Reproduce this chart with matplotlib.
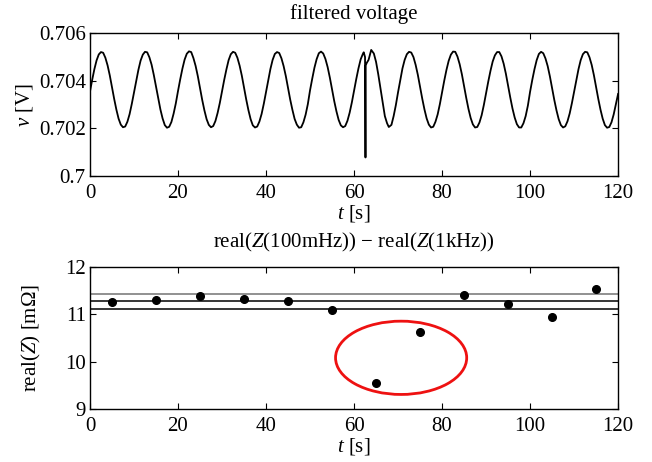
import numpy as np
import matplotlib.pyplot as plt
from matplotlib.patches import Ellipse

plt.rcParams['font.family'] = 'Liberation Serif'
plt.rcParams['mathtext.fontset'] = 'custom'
plt.rcParams['mathtext.rm'] = 'Liberation Serif'
plt.rcParams['mathtext.it'] = 'Liberation Serif:italic'
plt.rcParams['font.size'] = 15

# filtered cell voltage, sampled every 0.5 s (extra samples around the glitch near 62 s)
t_v = list(np.arange(0, 62.01, 0.5)) + [62.2, 62.5, 62.6, 62.65, 62.9, 63.3, 63.9,
                                         64.5, 65, 65.5, 66, 66.5, 67, 67.5, 67.9, 68.5,
                                         69, 69.5, 70, 70.5, 71, 71.5, 72, 72.5] \
    + list(np.arange(73, 120.01, 0.5))
v = [
    # 0 - 9.5
    0.70355, 0.70404, 0.70449, 0.70486, 0.70511, 0.70521, 0.70518, 0.70497, 0.70465, 0.70423,
    0.70374, 0.70324, 0.70279, 0.70241, 0.70216, 0.70205, 0.70208, 0.70228, 0.70260, 0.70303,
    # 10 - 19.5
    0.70351, 0.70400, 0.70446, 0.70485, 0.70510, 0.70522, 0.70520, 0.70499, 0.70468, 0.70425,
    0.70376, 0.70326, 0.70280, 0.70242, 0.70214, 0.70203, 0.70207, 0.70227, 0.70262, 0.70305,
    # 20 - 29.5
    0.70357, 0.70406, 0.70451, 0.70489, 0.70514, 0.70524, 0.70521, 0.70496, 0.70463, 0.70420,
    0.70370, 0.70320, 0.70276, 0.70239, 0.70215, 0.70205, 0.70210, 0.70231, 0.70265, 0.70307,
    # 30 - 39.5
    0.70355, 0.70404, 0.70448, 0.70487, 0.70512, 0.70522, 0.70518, 0.70497, 0.70464, 0.70422,
    0.70372, 0.70322, 0.70277, 0.70239, 0.70213, 0.70204, 0.70208, 0.70229, 0.70261, 0.70304,
    # 40 - 49.5
    0.70353, 0.70403, 0.70450, 0.70488, 0.70513, 0.70521, 0.70517, 0.70495, 0.70462, 0.70420,
    0.70371, 0.70321, 0.70278, 0.70240, 0.70216, 0.70203, 0.70205, 0.70226, 0.70258, 0.70302,
    # 50 - 59.5
    0.70360, 0.70409, 0.70455, 0.70491, 0.70516, 0.70523, 0.70515, 0.70492, 0.70458, 0.70414,
    0.70364, 0.70315, 0.70272, 0.70236, 0.70213, 0.70205, 0.70210, 0.70232, 0.70266, 0.70309,
    # 60 - 62
    0.70358, 0.70407, 0.70452, 0.70490, 0.70513,
    # glitch and recovery, 62.2 - 72.5
    0.70520, 0.70500, 0.70078, 0.70465, 0.70476, 0.70488, 0.70530,
    0.70515, 0.70480, 0.70428, 0.70370, 0.70310, 0.70252, 0.70222, 0.70206, 0.70215,
    0.70252, 0.70298, 0.70352, 0.70402, 0.70452, 0.70488, 0.70512, 0.70522,
    # 73 - 79.5
    0.70519, 0.70500, 0.70467, 0.70425, 0.70375, 0.70325, 0.70280, 0.70242, 0.70216, 0.70204,
    0.70207, 0.70228, 0.70259, 0.70302,
    # 80 - 89.5
    0.70352, 0.70401, 0.70446, 0.70484, 0.70510, 0.70523, 0.70522, 0.70502, 0.70470, 0.70428,
    0.70378, 0.70328, 0.70282, 0.70244, 0.70217, 0.70204, 0.70206, 0.70225, 0.70256, 0.70299,
    # 90 - 99.5
    0.70348, 0.70397, 0.70442, 0.70481, 0.70507, 0.70521, 0.70521, 0.70503, 0.70472, 0.70430,
    0.70380, 0.70330, 0.70284, 0.70246, 0.70218, 0.70204, 0.70204, 0.70222, 0.70252, 0.70296,
    # 100 - 109.5
    0.70354, 0.70404, 0.70449, 0.70487, 0.70513, 0.70522, 0.70516, 0.70494, 0.70462, 0.70419,
    0.70369, 0.70320, 0.70276, 0.70239, 0.70214, 0.70204, 0.70209, 0.70230, 0.70263, 0.70306,
    # 110 - 120
    0.70354, 0.70403, 0.70449, 0.70487, 0.70512, 0.70522, 0.70520, 0.70499, 0.70467, 0.70424,
    0.70374, 0.70324, 0.70279, 0.70241, 0.70214, 0.70203, 0.70206, 0.70226, 0.70259, 0.70302,
    0.70345,
]

# impedance difference per 10 s window
t_z = [5, 15, 25, 35, 45, 55, 65, 75, 85, 95, 105, 115]
real_z = [11.27, 11.30, 11.38, 11.32, 11.28, 11.10, 9.54, 10.63, 11.41, 11.22, 10.95, 11.53]
band_upper = 11.44
band_mean = 11.28
band_lower = 11.11

fig = plt.figure(figsize=(6.52, 4.62), dpi=100)
ax1 = fig.add_axes([0.138, 0.619, 0.810, 0.309])
ax2 = fig.add_axes([0.138, 0.115, 0.810, 0.307])

ax1.plot(t_v, v, color='black', lw=1.3)
ax1.set_xlim(0, 120)
ax1.set_ylim(0.7, 0.706)
ax1.set_yticks([0.7, 0.702, 0.704, 0.706])
ax1.set_yticklabels(['0.7', '0.702', '0.704', '0.706'])
ax1.set_xticks(np.arange(0, 121, 20))
ax1.set_title('filtered voltage', fontsize=15, pad=10)
ax1.set_ylabel('$v$ [V]', fontsize=15, labelpad=3)
ax1.set_xlabel('$t$ [s]', fontsize=15, labelpad=0)

ax2.axhline(band_upper, color='0.45', lw=1.1)
ax2.axhline(band_mean, color='black', lw=1.1)
ax2.axhline(band_lower, color='black', lw=1.1)
ax2.plot(t_z, real_z, 'o', color='black', markersize=5.5)
ax2.add_patch(Ellipse((70.7, 10.08), 29.8, 1.55, fill=False, edgecolor='#ee1111', lw=2))
ax2.set_xlim(0, 120)
ax2.set_ylim(9, 12)
ax2.set_yticks([9, 10, 11, 12])
ax2.set_xticks(np.arange(0, 121, 20))
ax2.set_title(r'real($Z$(100mHz)) $-$ real($Z$(1kHz))', fontsize=15, pad=14)
ax2.set_ylabel(r'real($Z$) [m$\Omega$]', fontsize=15, labelpad=16)
ax2.set_xlabel('$t$ [s]', fontsize=15, labelpad=0)

for ax in (ax1, ax2):
    ax.tick_params(direction='in', top=True, right=True, length=4, width=0.8,
                   labelsize=15)
    ax.tick_params(axis='x', pad=6)
    ax.tick_params(axis='y', pad=3)
    for s in ax.spines.values():
        s.set_linewidth(1.0)

fig.savefig('out.png', dpi=100)
